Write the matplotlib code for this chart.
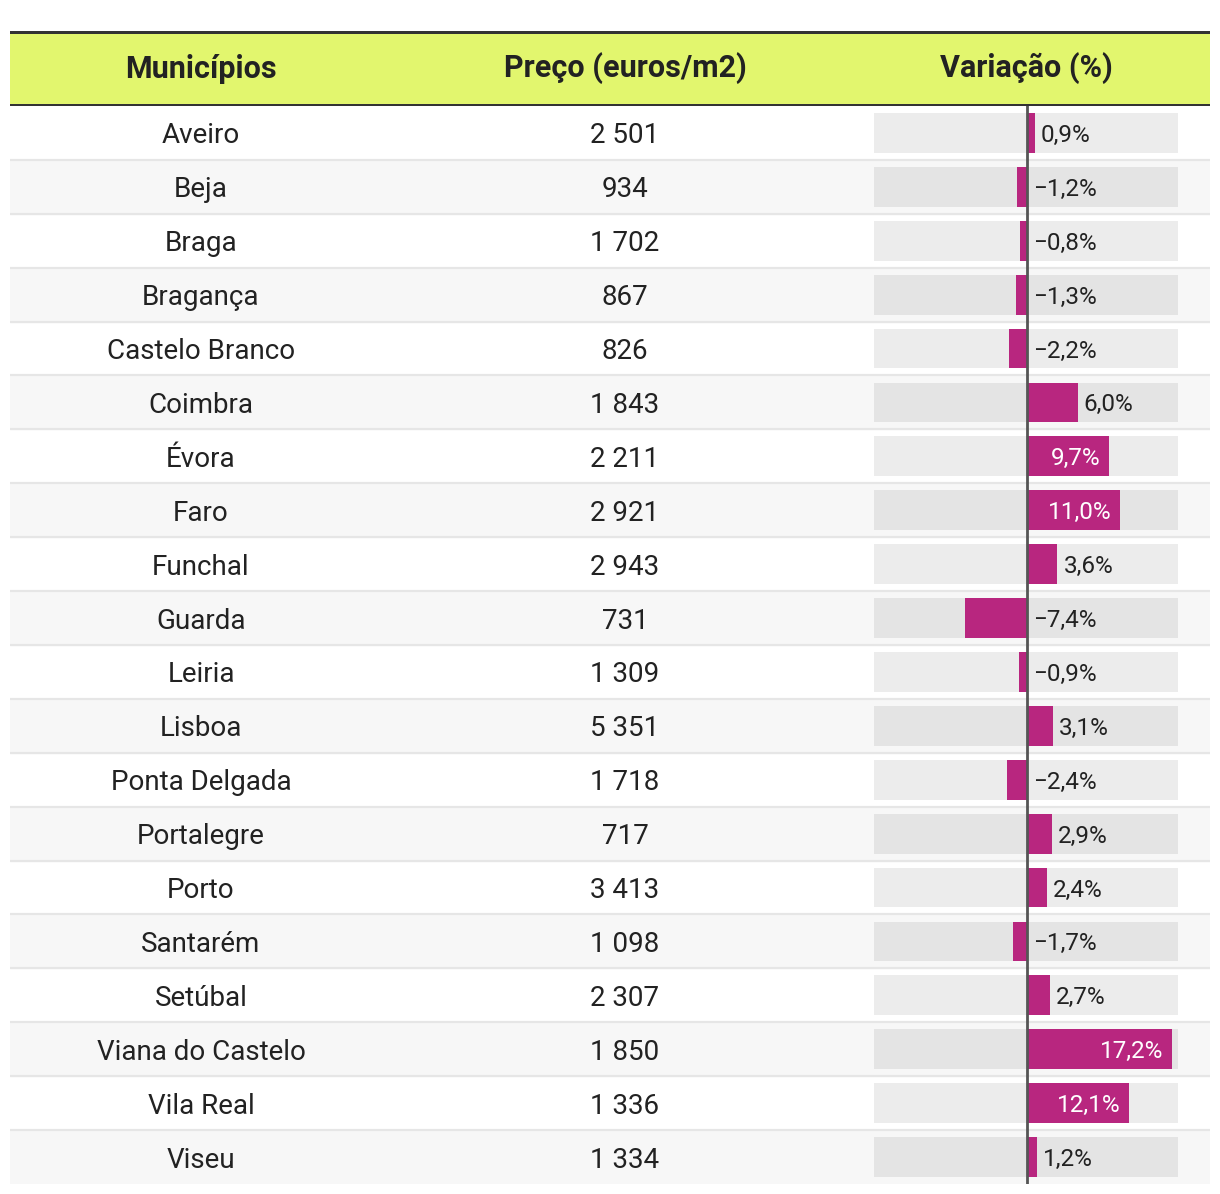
import matplotlib.pyplot as plt

plt.rcParams['font.family'] = ['Roboto', 'DejaVu Sans']

municipios = ['Aveiro', 'Beja', 'Braga', 'Bragança', 'Castelo Branco', 'Coimbra', 'Évora', 'Faro',
              'Funchal', 'Guarda', 'Leiria', 'Lisboa', 'Ponta Delgada', 'Portalegre', 'Porto',
              'Santarém', 'Setúbal', 'Viana do Castelo', 'Vila Real', 'Viseu']
preco = [2501, 934, 1702, 867, 826, 1843, 2211, 2921, 2943, 731, 1309, 5351, 1718, 717, 3413,
         1098, 2307, 1850, 1336, 1334]
variacao = [0.9, -1.2, -0.8, -1.3, -2.2, 6.0, 9.7, 11.0, 3.6, -7.4, -0.9, 3.1, -2.4, 2.9, 2.4,
            -1.7, 2.7, 17.2, 12.1, 1.2]
headers = ['Municípios', 'Preço (euros/m2)', 'Variação (%)']

W, H = 1220, 1194
n = len(municipios)
txt_col = '#222222'
bar_col = '#B8267F'


def fmt_preco(p):
    return f'{p:,}'.replace(',', ' ')


def fmt_var(v):
    s = f'{abs(v):.1f}'.replace('.', ',') + '%'
    return ('\u2212' + s) if v < 0 else s


def px_axes(fig, x0, y0, x1, y1):
    # pixel box (top-left origin) -> figure axes
    return fig.add_axes([x0 / W, 1 - y1 / H, (x1 - x0) / W, (y1 - y0) / H])


fig = plt.figure(figsize=(W / 100, H / 100), dpi=100)

# header
hax = px_axes(fig, 10, 31, 1210, 106)
hax.set_xlim(0, 1200)
hax.set_ylim(0, 1)
hax.axis('off')
hax.axhspan(0, 1, color='#E2F66E', zorder=0)
hax.axhline(1, color='#333333', lw=3.6, zorder=2)
hax.axhline(0, color='#333333', lw=3.6, zorder=2)
for x, h in zip([191, 615, 1016], headers):
    hax.text(x, 0.5, h, ha='center', va='center', fontsize=22, fontweight='bold', color=txt_col)

# body
bax = px_axes(fig, 10, 106, 1210, 1184)
bax.set_xlim(0, 1200)
bax.set_ylim(n - 0.5, -0.5)
bax.axis('off')
for i in range(n):
    if i % 2 == 1:
        bax.axhspan(i - 0.5, i + 0.5, color='#F7F7F7', zorder=0)
    if i > 0:
        bax.axhline(i - 0.5, color='#E6E6E6', lw=1.6, zorder=1)
    bax.text(191, i, municipios[i], ha='center', va='center_baseline', fontsize=20, color=txt_col)
    bax.text(615, i, fmt_preco(preco[i]), ha='center', va='center_baseline', fontsize=20, color=txt_col)

# bars
vax = px_axes(fig, 874, 106, 1178, 1184)
lo, hi = -18.15, 17.9
vax.set_xlim(lo, hi)
vax.set_ylim(n - 0.5, -0.5)
vax.axis('off')
vax.patch.set_alpha(0)
ys = list(range(n))
vax.barh(ys, [hi - lo] * n, left=lo, height=0.74, color='black', alpha=0.075, zorder=1)
vax.barh(ys, variacao, height=0.74, color=bar_col, zorder=2)
vax.axvline(0, color='#555555', lw=2, zorder=3)
for i, v in enumerate(variacao):
    if v >= 8:
        vax.annotate(fmt_var(v), (v, i), xytext=(-6, 0), textcoords='offset points',
                     ha='right', va='center_baseline', fontsize=17.5, color='white', zorder=4)
    else:
        vax.annotate(fmt_var(v), (max(v, 0), i), xytext=(4.3, 0), textcoords='offset points',
                     ha='left', va='center_baseline', fontsize=17.5, color=txt_col, zorder=4)

fig.savefig('out.png', dpi=100)
